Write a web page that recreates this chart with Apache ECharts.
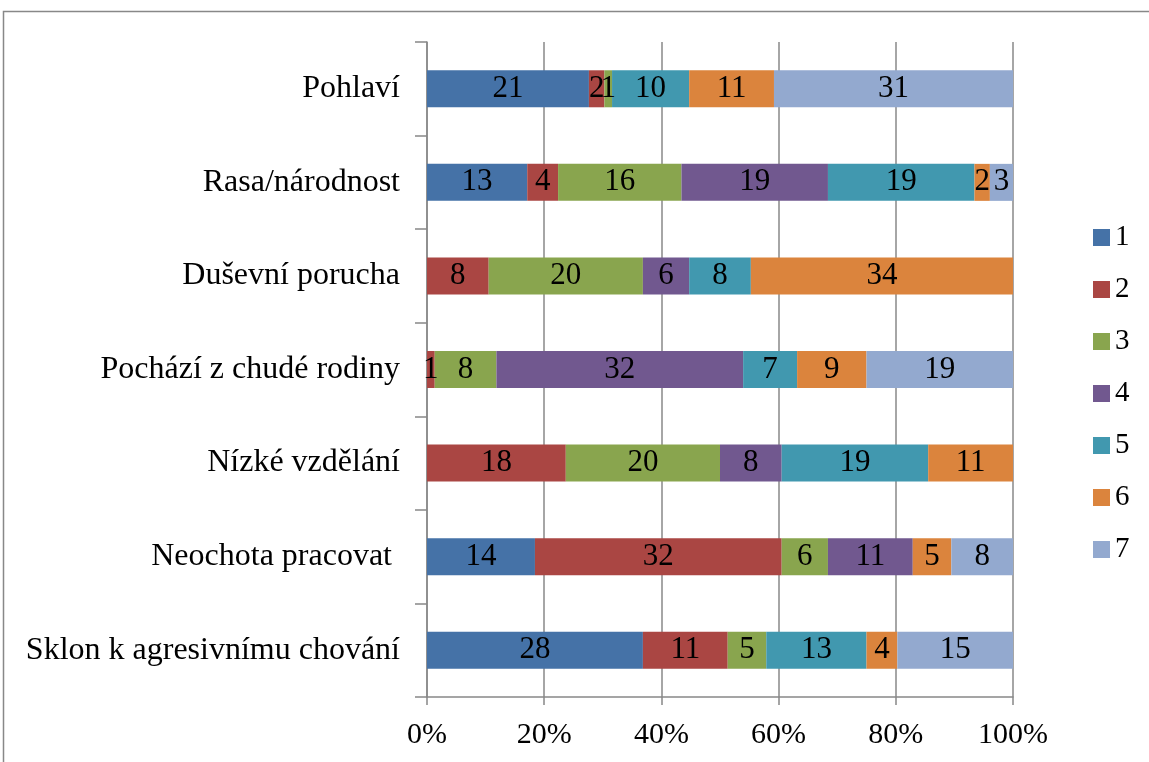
<!DOCTYPE html>
<html><head><meta charset="utf-8">
<script src="https://cdn.jsdelivr.net/npm/echarts@6/dist/echarts.min.js"></script>
<style>html,body{margin:0;padding:0;background:#fff}#c{width:1149px;height:762px}</style>
</head><body><div id="c"></div>
<script>
const categories = ['Pohlaví','Rasa/národnost','Duševní porucha','Pochází z chudé rodiny','Nízké vzdělání','Neochota pracovat ','Sklon k agresivnímu chování'];
const seriesNames = ['1','2','3','4','5','6','7'];
const s1 = [21,13,0,0,0,14,28];
const s2 = [2,4,8,1,18,32,11];
const s3 = [1,16,20,8,20,6,5];
const s4 = [0,19,6,32,8,11,0];
const s5 = [10,19,8,7,19,0,13];
const s6 = [11,2,34,9,11,5,4];
const s7 = [31,3,0,19,0,8,15];
const xTicks = ['0%','20%','40%','60%','80%','100%'];
const colors = ['#4572A7','#AA4643','#89A54E','#71588F','#4198AF','#DB843D','#93A9CF'];

const all = [s1,s2,s3,s4,s5,s6,s7];
const totals = categories.map((c,i)=>all.reduce((a,s)=>a+s[i],0));
const font = 'Liberation Serif';

const series = all.map((s,k)=>({
  name: seriesNames[k],
  type:'bar',
  stack:'t',
  barWidth: 37,
  itemStyle:{color:colors[k]},
  label:{show:true, position:'inside', color:'#000', fontFamily:font, fontSize:31,
    formatter: p => s[p.dataIndex] ? String(s[p.dataIndex]) : ''},
  data: s.map((v,i)=> v/totals[i]*100)
}));

const chart = echarts.init(document.getElementById('c'));
chart.setOption({
  animation:false,
  backgroundColor:'#fff',
  grid:{left:427, right:136, top:42, bottom:65, containLabel:false},
  legend:{
    orient:'vertical', left:1088, top:218, itemWidth:17, itemHeight:17, itemGap:23,
    icon:'rect', padding:5,
    textStyle:{fontFamily:font, fontSize:29, lineHeight:28, color:'#000', padding:[0,0,0,0]},
    data: seriesNames
  },
  xAxis:{
    type:'value', min:0, max:100, interval:20,
    axisLine:{show:true, lineStyle:{color:'#888', width:1.5}},
    axisTick:{show:true, length:8, lineStyle:{color:'#888', width:1.5}},
    splitLine:{show:true, lineStyle:{color:'#888', width:1.5}},
    axisLabel:{fontFamily:font, fontSize:30, color:'#000', margin:23,
      formatter: v => xTicks[Math.round(v/20)]}
  },
  yAxis:{
    type:'category', inverse:true, data:categories,
    axisLine:{show:true, lineStyle:{color:'#888', width:1.5}},
    axisTick:{show:true, length:12, alignWithLabel:false, lineStyle:{color:'#888', width:1.5}},
    axisLabel:{fontFamily:font, fontSize:32, color:'#000', margin:27}
  },
  graphic:[{type:'rect', shape:{x:3.5,y:11.5,width:1200,height:800}, style:{fill:'none', stroke:'#888', lineWidth:1.5}, z:-1}],
  series: series
});
</script></body></html>
